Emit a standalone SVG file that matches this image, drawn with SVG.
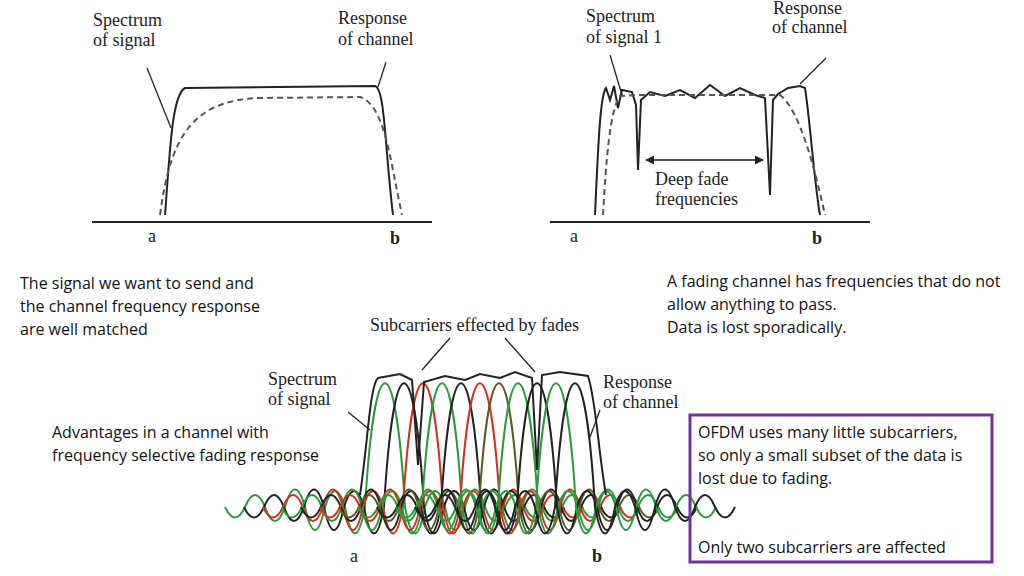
<svg xmlns="http://www.w3.org/2000/svg" width="1024" height="576" viewBox="0 0 1024 576">
<style>
.h{font-family:"Liberation Serif",serif;font-size:18px;fill:#222}
.t{font-family:"Open Sans","Liberation Sans",sans-serif;font-size:16px;fill:#111}
.ax{stroke:#222;stroke-width:2;fill:none}
.s{stroke:#222;stroke-width:2;fill:none}
.d{stroke:#555;stroke-width:2;fill:none;stroke-dasharray:6 4}
.l{stroke:#222;stroke-width:1.3;fill:none}
.c{fill:none;stroke-width:2}
</style>
<defs>
<path id="sinc" d="M-160,0 Q-150,21 -140,0 Q-130,-24 -120,0 Q-110,28 -100,0 Q-90,-35 -80,0 Q-70,46 -60,0 Q-50,-32 -40,0 Q-30,53 -20,0 C-10,-165 10,-165 20,0 Q30,53 40,0 Q50,-32 60,0 Q70,46 80,0 Q90,-35 100,0 Q110,28 120,0 Q130,-24 140,0 Q150,21 160,0"/>
<marker id="ah" viewBox="0 0 10 10" refX="9" refY="5" markerWidth="7" markerHeight="7" orient="auto-start-reverse"><path d="M0,0 L10,5 L0,10 z" fill="#222"/></marker>
</defs>
<rect width="1024" height="576" fill="#fff"/>
<g id="plot1">
<line class="ax" x1="92" y1="222" x2="432" y2="222"/>
<path class="s" d="M165,215 C170,150 172,95 185,88 L375,86 C385,88 385,150 393,215"/>
<path class="d" d="M160,215 C170,140 190,100 260,98 L360,97 C385,105 390,160 402,215"/>
<path class="l" d="M147,68 L171,128"/>
<path class="l" d="M386,62 L378,87"/>
<text class="h" x="93" y="26">Spectrum</text><text class="h" x="93" y="46">of signal</text>
<text class="h" x="338" y="24">Response</text><text class="h" x="338" y="45">of channel</text>
<text class="h" x="148" y="242" font-size="22">a</text><text class="h" x="390" y="244" font-weight="bold">b</text>
</g>
<g id="plot2">
<line class="ax" x1="550" y1="222" x2="870" y2="222"/>
<path class="s" d="M595,215 C598,150 600,95 606,88 L610,100 L614,86 L618,108 L622,90 L632,92 L636,105 L638,170 L641,100 L650,92 L665,96 L680,90 L695,98 L710,85 L725,96 L740,88 L755,95 L765,98 L770,195 L773,100 L778,94 L788,88 L800,86 L805,88 C810,120 814,180 820,215"/>
<path class="d" d="M603,215 C606,160 610,110 620,96 L640,95 L760,95 L780,95 C800,110 815,170 825,215"/>
<path class="l" d="M610,55 L622,95"/>
<path class="l" d="M826,58 L800,84"/>
<line class="l" x1="646" y1="160" x2="763" y2="160" marker-start="url(#ah)" marker-end="url(#ah)"/>
<text class="h" x="586" y="22">Spectrum</text><text class="h" x="586" y="43">of signal 1</text>
<text class="h" x="773" y="14">Response</text><text class="h" x="772" y="33">of channel</text>
<text class="h" x="655" y="185">Deep fade</text><text class="h" x="655" y="205">frequencies</text>
<text class="h" x="570" y="242" font-size="22">a</text><text class="h" x="812" y="244" font-weight="bold">b</text>
</g>
<g id="plot3">
<use href="#sinc" x="385" y="507" class="c" stroke="#2a9a3a"/>
<use href="#sinc" x="404" y="507" class="c" stroke="#222"/>
<use href="#sinc" x="423" y="507" class="c" stroke="#d03020"/>
<use href="#sinc" x="442" y="507" class="c" stroke="#2a9a3a"/>
<use href="#sinc" x="461" y="507" class="c" stroke="#222"/>
<use href="#sinc" x="480" y="507" class="c" stroke="#d03020"/>
<use href="#sinc" x="499" y="507" class="c" stroke="#5a5a20"/>
<use href="#sinc" x="518" y="507" class="c" stroke="#2a9a3a"/>
<use href="#sinc" x="537" y="507" class="c" stroke="#222"/>
<use href="#sinc" x="556" y="507" class="c" stroke="#2a9a3a"/>
<use href="#sinc" x="575" y="507" class="c" stroke="#222"/>
<path class="s" d="M360,495 C368,440 370,385 378,378 L400,374 L412,380 L418,465 L424,382 L445,376 L465,380 L480,374 L500,378 L515,372 L532,378 L537,470 L542,375 L560,372 L588,376 C596,400 598,450 606,495"/>
<path class="l" d="M422,370 L450,338"/>
<path class="l" d="M535,372 L505,338"/>
<path class="l" d="M348,412 L370,430"/>
<path class="l" d="M600,410 L590,437"/>
<text class="h" x="370" y="331">Subcarriers effected by fades</text>
<text class="h" x="268" y="385">Spectrum</text><text class="h" x="268" y="405">of signal</text>
<text class="h" x="603" y="388">Response</text><text class="h" x="603" y="408">of channel</text>
<text class="h" x="350" y="562" font-size="22">a</text><text class="h" x="592" y="562" font-weight="bold">b</text>
</g>
<g id="captions">
<text class="t" x="20" y="289">The signal we want to send and</text>
<text class="t" x="20" y="312">the channel frequency response</text>
<text class="t" x="20" y="335">are well matched</text>
<text class="t" x="667" y="287">A fading channel has frequencies that do not</text>
<text class="t" x="667" y="310">allow anything to pass.</text>
<text class="t" x="667" y="333">Data is lost sporadically.</text>
<text class="t" x="52" y="438">Advantages in a channel with</text>
<text class="t" x="52" y="461">frequency selective fading response</text>
</g>
<g id="box">
<rect x="690" y="415" width="302" height="147" fill="none" stroke="#7030a0" stroke-width="3"/>
<text class="t" x="698" y="438">OFDM uses many little subcarriers,</text>
<text class="t" x="698" y="461">so only a small subset of the data is</text>
<text class="t" x="698" y="484">lost due to fading.</text>
<text class="t" x="698" y="553">Only two subcarriers are affected</text>
</g>
</svg>
